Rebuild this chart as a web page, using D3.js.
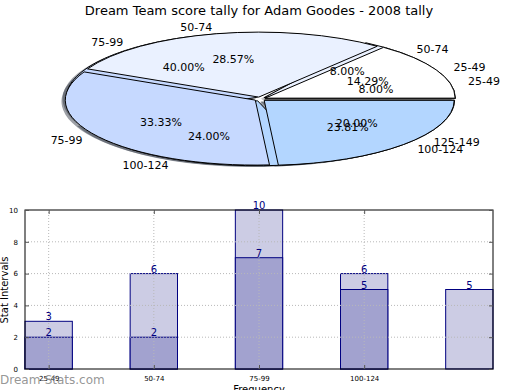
<!DOCTYPE html>
<html>
  <head>
    <meta charset="utf-8">
    <title>Dream Team score tally</title>
    <script src="https://d3js.org/d3.v7.min.js"></script>
    <style>
      body { margin: 0; background: #fff; }
      svg { font-family: "DejaVu Sans", sans-serif; }
    </style>
  </head>
  <body>
    <svg id="chart" width="520" height="390"></svg>
    <script>
      // data
      pieCats1 = ["25-49", "50-74", "75-99", "100-124"];
      pieVals1 = [3, 6, 7, 5];
      pieCats2 = ["25-49", "50-74", "75-99", "100-124", "125-149"];
      pieVals2 = [2, 2, 10, 6, 5];
      barCats = ["25-49", "50-74", "75-99", "100-124", "125-149"];
      barLight = [3, 6, 10, 6, 5];
      barDark = [2, 2, 7, 5, 0];
      yTicks = [0, 2, 4, 6, 8, 10];
      xTickCount = 4; // last category has no tick in the original

      // name page elements
      svg = d3.select("#chart");
      title = "Dream Team score tally for Adam Goodes - 2008 tally";
      pieColors = ["#ffffff", "#eaf1ff", "#c6d9ff", "#b3d6ff", "#ffffff"];

      svg.append("text")
        .attr("x", 259).attr("y", 15)
        .attr("text-anchor", "middle")
        .style("font-size", "13px")
        .text(title);

      // pie geometry
      cx = 260; cy = 99; rx = 190; ry = 65;
      R = 100;
      explode = 0.03;
      arc = d3.arc().innerRadius(0).outerRadius(R);
      pie = d3.pie().sort(null).startAngle(Math.PI / 2).endAngle(Math.PI / 2 - 2 * Math.PI);

      function layout(vals, cats) {
        return pie(vals).map(function(d, i) {
          mid = (d.startAngle + d.endAngle) / 2;
          return {
            arc: d,
            cat: cats[i],
            pct: (100 * d.value / d3.sum(vals)).toFixed(2) + "%",
            color: pieColors[i],
            sx: Math.sin(mid), sy: -Math.cos(mid),
            ox: explode * rx * Math.sin(mid),
            oy: -explode * ry * Math.cos(mid)
          };
        });
      }
      slices2 = layout(pieVals2, pieCats2);
      slices1 = layout(pieVals1, pieCats1);
      allSlices = slices2.concat(slices1);

      pieGroup = svg.append("g");
      // shadows first
      pieGroup.selectAll("path.shadow")
        .data(allSlices)
        .enter().append("path")
          .attr("class", "shadow")
          .attr("d", function(d) { return arc(d.arc); })
          .attr("transform", function(d) {
            return "translate(" + (cx + d.ox - 0.02 * rx) + "," + (cy + d.oy + 0.02 * ry) + ") scale(" + rx / R + "," + ry / R + ")";
          })
          .attr("fill", function(d) {
            c = d3.rgb(d.color);
            return d3.rgb(c.r * 0.3, c.g * 0.3, c.b * 0.3);
          })
          .attr("fill-opacity", 0.5);
      // wedges
      pieGroup.selectAll("path.wedge")
        .data(allSlices)
        .enter().append("path")
          .attr("class", "wedge")
          .attr("d", function(d) { return arc(d.arc); })
          .attr("transform", function(d) {
            return "translate(" + (cx + d.ox) + "," + (cy + d.oy) + ") scale(" + rx / R + "," + ry / R + ")";
          })
          .attr("fill", function(d) { return d.color; })
          .attr("stroke", "#000")
          .attr("stroke-width", 1)
          .attr("vector-effect", "non-scaling-stroke");
      // labels
      pieGroup.selectAll("text.cat")
        .data(allSlices)
        .enter().append("text")
          .attr("x", function(d) { return cx + d.ox + 1.1 * rx * d.sx; })
          .attr("y", function(d) { return cy + d.oy + 1.1 * ry * d.sy; })
          .attr("dy", "0.35em")
          .attr("text-anchor", function(d) { return d.sx > 0 ? "start" : "end"; })
          .style("font-size", "11px")
          .text(function(d) { return d.cat; });
      pieGroup.selectAll("text.pct")
        .data(allSlices)
        .enter().append("text")
          .attr("x", function(d) { return cx + d.ox + 0.6 * rx * d.sx; })
          .attr("y", function(d) { return cy + d.oy + 0.6 * ry * d.sy; })
          .attr("dy", "0.35em")
          .attr("text-anchor", "middle")
          .style("font-size", "11px")
          .text(function(d) { return d.pct; });

      // bar chart
      x = d3.scaleLinear().domain([-0.225, 4.225]).range([25, 493]);
      y = d3.scaleLinear().domain([0, 10]).range([369, 210]);
      barW = 0.45;
      bars = svg.append("g");
      bars.selectAll("rect.light")
        .data(barLight)
        .enter().append("rect")
          .attr("x", function(d, i) { return x(i - barW / 2); })
          .attr("width", function() { return x(barW) - x(0); })
          .attr("y", function(d) { return y(d); })
          .attr("height", function(d) { return y(0) - y(d); })
          .attr("fill", "#ccccE4")
          .attr("stroke", "#000080");
      bars.selectAll("rect.dark")
        .data(barDark)
        .enter().append("rect")
          .attr("x", function(d, i) { return x(i - barW / 2); })
          .attr("width", function() { return x(barW) - x(0); })
          .attr("y", function(d) { return y(d); })
          .attr("height", function(d) { return y(0) - y(d); })
          .attr("fill", "#a2a2cf")
          .attr("stroke", "#000080")
          .style("display", function(d) { return d > 0 ? null : "none"; });
      // grid
      grid = svg.append("g")
        .attr("stroke", "#b8b8b8")
        .attr("stroke-dasharray", "1,2");
      grid.selectAll("line.h")
        .data(yTicks.slice(1, -1))
        .enter().append("line")
          .attr("x1", x.range()[0]).attr("x2", x.range()[1])
          .attr("y1", function(d) { return y(d); })
          .attr("y2", function(d) { return y(d); });
      grid.selectAll("line.v")
        .data(d3.range(xTickCount))
        .enter().append("line")
          .attr("x1", function(d) { return x(d); })
          .attr("x2", function(d) { return x(d); })
          .attr("y1", y.range()[0]).attr("y2", y.range()[1]);
      // value labels
      svg.selectAll("text.vl")
        .data(barLight.map(function(v, i) { return { v: v, i: i }; })
          .concat(barDark.map(function(v, i) { return { v: v, i: i }; }).filter(function(d) { return d.v > 0; })))
        .enter().append("text")
          .attr("x", function(d) { return x(d.i); })
          .attr("y", function(d) { return y(d.v) - 1; })
          .attr("text-anchor", "middle")
          .attr("fill", "#000080")
          .style("font-size", "10px")
          .text(function(d) { return d.v; });
      // frame
      svg.append("rect")
        .attr("x", 25).attr("y", 210)
        .attr("width", 468).attr("height", 159)
        .attr("fill", "none")
        .attr("stroke", "#000");
      // ticks
      yAxisL = d3.axisLeft(y).tickValues(yTicks).tickSizeInner(-4).tickSizeOuter(0).tickPadding(7);
      yAxisR = d3.axisRight(y).tickValues(yTicks).tickSizeInner(-4).tickSizeOuter(0).tickFormat("");
      xAxisB = d3.axisBottom(x).tickValues(d3.range(xTickCount)).tickSizeInner(-4).tickSizeOuter(0).tickPadding(7)
        .tickFormat(function(d) { return barCats[d]; });
      xAxisT = d3.axisTop(x).tickValues(d3.range(xTickCount)).tickSizeInner(-4).tickSizeOuter(0).tickFormat("");
      gl = svg.append("g").attr("transform", "translate(25,0)").call(yAxisL);
      gr = svg.append("g").attr("transform", "translate(493,0)").call(yAxisR);
      gb = svg.append("g").attr("transform", "translate(0,369)").call(xAxisB);
      gt = svg.append("g").attr("transform", "translate(0,210)").call(xAxisT);
      svg.selectAll(".domain").remove();
      svg.selectAll(".tick line").attr("stroke", "#555");
      svg.selectAll(".tick text").attr("fill", "#000").style("font-size", "7px").style("font-family", "DejaVu Sans");
      // axis titles
      svg.append("text")
        .attr("transform", "translate(8,290) rotate(-90)")
        .attr("text-anchor", "middle")
        .style("font-size", "10px")
        .text("Stat Intervals");
      svg.append("text")
        .attr("x", 259).attr("y", 393)
        .attr("text-anchor", "middle")
        .style("font-size", "10px")
        .text("Frequency");
      svg.append("text")
        .attr("x", 0).attr("y", 384)
        .attr("fill", "#8a8a8a")
        .attr("fill-opacity", 0.9)
        .style("font-size", "12px")
        .text("Dream-Stats.com");
    </script>
  </body>
</html>
